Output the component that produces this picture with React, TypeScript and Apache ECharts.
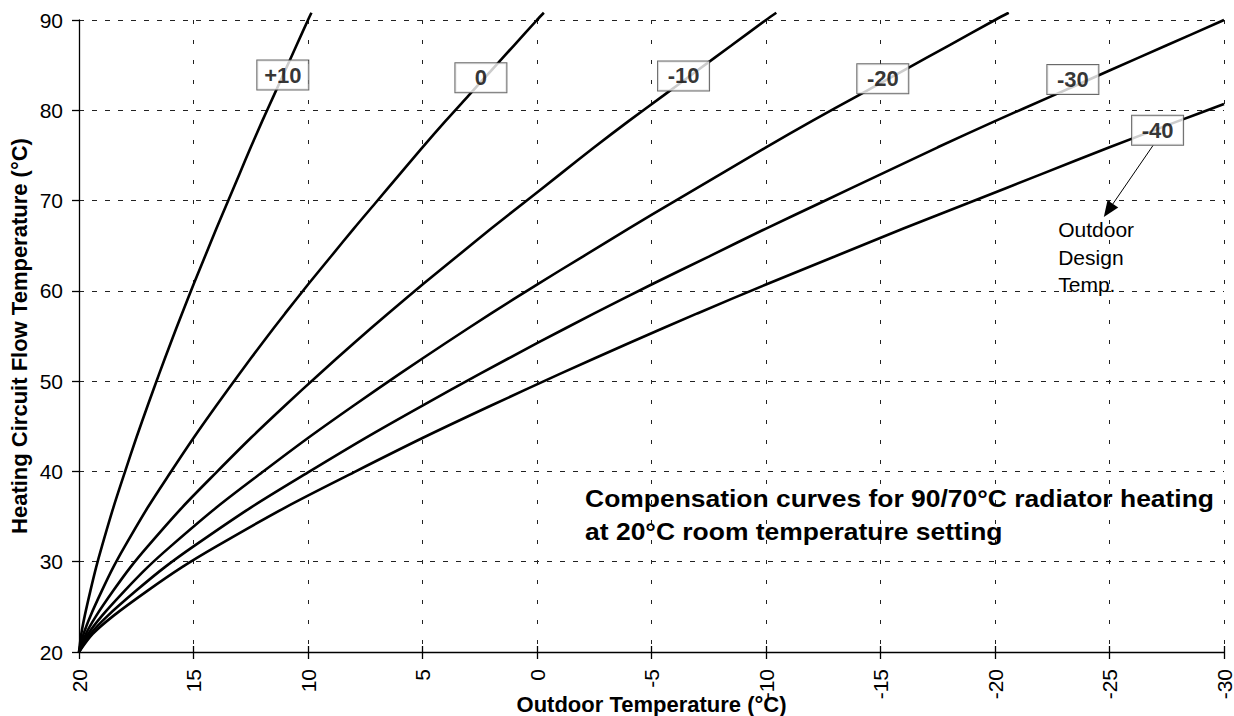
import React, { useEffect, useRef } from "react";
import * as echarts from "echarts";

// Compensation curves: [outdoor temperature °C, flow temperature °C]
const curvePlus10: [number, number][] = [
  [20, 20], [19.9, 22.0], [19.75, 24.0], [19.5, 26.8], [19.25, 29.4], [19, 31.7],
  [18.5, 36.0], [18, 39.9], [17.5, 43.7], [17, 47.3], [16.5, 50.8], [16, 54.2],
  [15.5, 57.5], [15, 60.7], [14.5, 63.8], [14, 66.9], [13.5, 69.9], [13, 72.9],
  [12.5, 75.9], [12, 78.8], [11.5, 81.6], [11, 84.4], [10.5, 87.2], [10, 90.0], [9.85, 90.8],
];
const curveZero: [number, number][] = [
  [20, 20], [19.8, 22.0], [19.5, 24.0], [19, 26.8], [18.5, 29.4], [18, 31.7],
  [17, 36.0], [16, 39.9], [15, 43.7], [14, 47.3], [13, 50.8], [12, 54.2],
  [11, 57.5], [10, 60.7], [9, 63.8], [8, 66.9], [7, 69.9], [6, 72.9],
  [5, 75.9], [4, 78.8], [3, 81.6], [2, 84.4], [1, 87.2], [0, 90.0], [-0.3, 90.8],
];
const curveMinus10: [number, number][] = [
  [20, 20], [19.7, 22.0], [19.25, 24.0], [18.5, 26.8], [17.75, 29.4], [17, 31.7],
  [15.5, 36.0], [14, 39.9], [12.5, 43.7], [11, 47.3], [9.5, 50.8], [8, 54.2],
  [6.5, 57.5], [5, 60.7], [3.5, 63.8], [2, 66.9], [0.5, 69.9], [-1, 72.9],
  [-2.5, 75.9], [-4, 78.8], [-5.5, 81.6], [-7, 84.4], [-8.5, 87.2], [-10, 90.0], [-10.45, 90.8],
];
const curveMinus20: [number, number][] = [
  [20, 20], [19.6, 22.0], [19, 24.0], [18, 26.8], [17, 29.4], [16, 31.7],
  [14, 36.0], [12, 39.9], [10, 43.7], [8, 47.3], [6, 50.8], [4, 54.2],
  [2, 57.5], [0, 60.7], [-2, 63.8], [-4, 66.9], [-6, 69.9], [-8, 72.9],
  [-10, 75.9], [-12, 78.8], [-14, 81.6], [-16, 84.4], [-18, 87.2], [-20, 90.0], [-20.6, 90.8],
];
const curveMinus30: [number, number][] = [
  [20, 20], [19.5, 22.0], [18.75, 24.0], [17.5, 26.8], [16.25, 29.4], [15, 31.7],
  [12.5, 36.0], [10, 39.9], [7.5, 43.7], [5, 47.3], [2.5, 50.8], [0, 54.2],
  [-2.5, 57.5], [-5, 60.7], [-7.5, 63.8], [-10, 66.9], [-12.5, 69.9], [-15, 72.9],
  [-17.5, 75.9], [-20, 78.8], [-22.5, 81.6], [-25, 84.4], [-27.5, 87.2], [-30, 90.0],
];
const curveMinus40: [number, number][] = [
  [20, 20], [19.4, 22.0], [18.5, 24.0], [17, 26.8], [15.5, 29.4], [14, 31.7],
  [11, 36.0], [8, 39.9], [5, 43.7], [2, 47.3], [-1, 50.8], [-4, 54.2],
  [-7, 57.5], [-10, 60.7], [-13, 63.8], [-16, 66.9], [-19, 69.9], [-22, 72.9],
  [-25, 75.9], [-28, 78.8], [-30, 80.7],
];

const curves = [curvePlus10, curveZero, curveMinus10, curveMinus20, curveMinus30, curveMinus40];
const curveNames = ["+10", "0", "-10", "-20", "-30", "-40"];
// label box anchors in data coordinates (outdoor °C, flow °C)
const labelAnchors: [number, number][] = [
  [11.1, 83.9], [2.45, 83.6], [-6.4, 83.8], [-15.1, 83.5], [-23.4, 83.4], [-27.1, 77.8],
];

const arrowFrom: [number, number] = [-26.9, 76.1];
const arrowTo: [number, number] = [-24.95, 68.9];
const noteAnchor: [number, number] = [-22.76, 68.27];
const noteText = "Outdoor\nDesign\nTemp.";
const titleAnchor: [number, number] = [-2.1, 38.83];
const titleText = "Compensation curves for 90/70°C radiator heating\nat 20°C room temperature setting";

const xTicks = { min: -30, max: 20, interval: 5 };
const yTicks = { min: 20, max: 90, interval: 10 };

const FONT = '"Liberation Sans", Arial, Helvetica, sans-serif';

export default function App() {
  const ref = useRef<HTMLDivElement>(null);
  useEffect(() => {
    if (!ref.current) return;
    const chart = echarts.init(ref.current, undefined, { renderer: "svg" });
    const option: any = {
      animation: false,
      textStyle: { fontFamily: FONT },
      grid: { left: 79, right: 10, top: 20, bottom: 64, containLabel: false, outerBoundsMode: "none" },
      xAxis: [
        {
          type: "value",
          ...xTicks,
          inverse: true,
          name: "Outdoor Temperature (°C)",
          nameLocation: "middle",
          nameGap: 41,
          nameMoveOverlap: false,
          nameTextStyle: { fontSize: 22, fontWeight: "bold", color: "#000", fontFamily: FONT },
          axisLine: { show: true, onZero: false, lineStyle: { color: "#000", width: 1.3 } },
          axisTick: { show: true, length: 7, lineStyle: { color: "#000", width: 1.3 } },
          axisLabel: { rotate: 90, fontSize: 21, color: "#000", margin: 17, fontFamily: FONT },
          splitLine: { show: true, lineStyle: { color: "#222", width: 1, type: [4, 16] } },
        },
        {
          type: "value",
          ...xTicks,
          inverse: true,
          position: "bottom",
          offset: 0,
          axisLine: { show: false },
          axisTick: { show: true, inside: true, length: 6, lineStyle: { color: "#000", width: 1.3 } },
          axisLabel: { show: false },
          splitLine: { show: false },
        },
      ],
      yAxis: {
        type: "value",
        ...yTicks,
        name: "Heating Circuit Flow Temperature (°C)",
        nameLocation: "middle",
        nameGap: 49,
        nameMoveOverlap: false,
        nameTextStyle: { fontSize: 22, fontWeight: "bold", color: "#000", fontFamily: FONT },
        axisLine: { show: true, onZero: false, lineStyle: { color: "#000", width: 1.3 } },
        axisTick: { show: true, length: 7, lineStyle: { color: "#000", width: 1.3 } },
        axisLabel: { fontSize: 21, color: "#000", margin: 16, fontFamily: FONT },
        splitLine: { show: true, lineStyle: { color: "#222", width: 1, type: [5, 8] } },
      },
      series: [
        ...curves.map((c, i) => ({
          type: "line",
          name: curveNames[i],
          data: c,
          showSymbol: false,
          symbol: "none",
          smooth: 0.3,
          clip: false,
          silent: true,
          lineStyle: { color: "#000", width: 2.6 },
          z: 3,
        })),
        {
          type: "scatter",
          symbolSize: 0,
          silent: true,
          clip: false,
          z: 6,
          data: labelAnchors.map((p, i) => ({ value: p, label: { formatter: curveNames[i] } })),
          label: {
            show: true,
            position: "inside",
            fontSize: 22,
            fontWeight: "bold",
            color: "#000",
            textBorderWidth: 0,
            fontFamily: FONT,
            backgroundColor: "#fff",
            borderColor: "#444",
            borderWidth: 1,
            width: 41,
            height: 21,
            lineHeight: 21,
            padding: [4, 5],
            align: "center",
            verticalAlign: "middle",
          },
          markLine: {
            silent: true,
            symbol: ["none", "triangle"],
            symbolSize: [13, 16],
            label: { show: false },
            lineStyle: { color: "#000", width: 1, type: "solid" },
            emphasis: { disabled: true },
            data: [[{ coord: arrowFrom }, { coord: arrowTo }]],
          },
        },
      ],
    };
    chart.setOption(option);

    const notePx = chart.convertToPixel({ gridIndex: 0 }, noteAnchor) as number[];
    const titlePx = chart.convertToPixel({ gridIndex: 0 }, titleAnchor) as number[];
    chart.setOption({
      graphic: [
        {
          type: "text",
          x: notePx[0],
          y: notePx[1],
          z: 10,
          silent: true,
          style: {
            text: noteText,
            fontSize: 21,
            fontFamily: FONT,
            lineHeight: 27.5,
            fill: "#000",
            align: "left",
            verticalAlign: "top",
          },
        },
        {
          type: "text",
          x: titlePx[0],
          y: titlePx[1],
          scaleX: 1.15,
          z: 10,
          silent: true,
          style: {
            text: titleText,
            fontSize: 23,
            fontWeight: "bold",
            fontFamily: FONT,
            lineHeight: 33.7,
            fill: "#000",
            align: "left",
            verticalAlign: "top",
          },
        },
      ],
    });
    return () => chart.dispose();
  }, []);
  return (
    <div
      ref={ref}
      style={{ position: "fixed", left: 0, top: 0, width: 1234, height: 716, background: "#fff" }}
    />
  );
}
